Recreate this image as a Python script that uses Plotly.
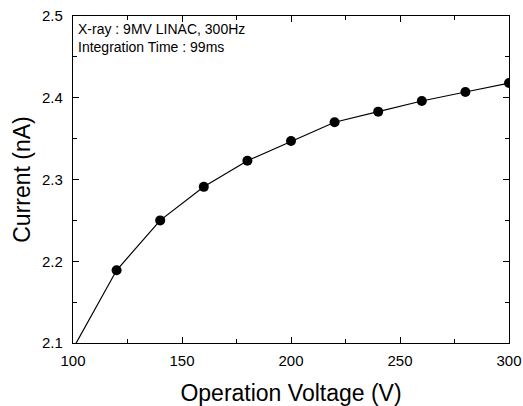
import plotly.graph_objects as go

voltage = [100, 120, 140, 160, 180, 200, 220, 240, 260, 280, 300]
current = [2.093, 2.189, 2.250, 2.291, 2.323, 2.347, 2.370, 2.383, 2.396, 2.407, 2.418]

x_ticks = [100, 150, 200, 250, 300]
y_ticks = [2.1, 2.2, 2.3, 2.4, 2.5]
note_lines = ["X-ray : 9MV LINAC, 300Hz", "Integration Time : 99ms"]

FONT = "Liberation Sans, Arial, sans-serif"

fig = go.Figure()
fig.add_trace(go.Scatter(
    x=voltage, y=current, mode="lines+markers",
    line=dict(color="black", width=1.2),
    marker=dict(color="black", size=10),
    cliponaxis=True, showlegend=False,
))

axis_common = dict(
    showgrid=False, zeroline=False, showline=True, linecolor="black", linewidth=1.2,
    mirror="allticks", ticks="inside", ticklen=6, tickwidth=1, tickcolor="black",
    tickfont=dict(family=FONT, size=15, color="black"),
    minor=dict(ticks="inside", ticklen=4, tickwidth=1, tickcolor="black"),
    automargin=False,
)

fig.update_xaxes(
    range=[100, 300], tickvals=x_ticks, ticktext=[str(v) for v in x_ticks],
    title=dict(text="Operation Voltage (V)", font=dict(family=FONT, size=23, color="black"), standoff=16),
    minor_dtick=25, ticklabelstandoff=4, **axis_common,
)
fig.update_yaxes(
    range=[2.1, 2.5], tickvals=y_ticks, ticktext=[f"{v:.1f}" for v in y_ticks],
    title=dict(text="Current (nA)", font=dict(family=FONT, size=23, color="black"), standoff=4),
    minor_dtick=0.05, ticklabelstandoff=6, **axis_common,
)

fig.add_annotation(
    xref="paper", yref="paper", x=0.007, y=1.0, xanchor="left", yanchor="top",
    yshift=-3,
    text="<br>".join(note_lines), showarrow=False, align="left",
    font=dict(family=FONT, size=14, color="black"),
)

fig.update_layout(
    width=523, height=406,
    margin=dict(l=73, r=14, t=16, b=63),
    paper_bgcolor="white", plot_bgcolor="white",
)

fig.write_html("out.html")
